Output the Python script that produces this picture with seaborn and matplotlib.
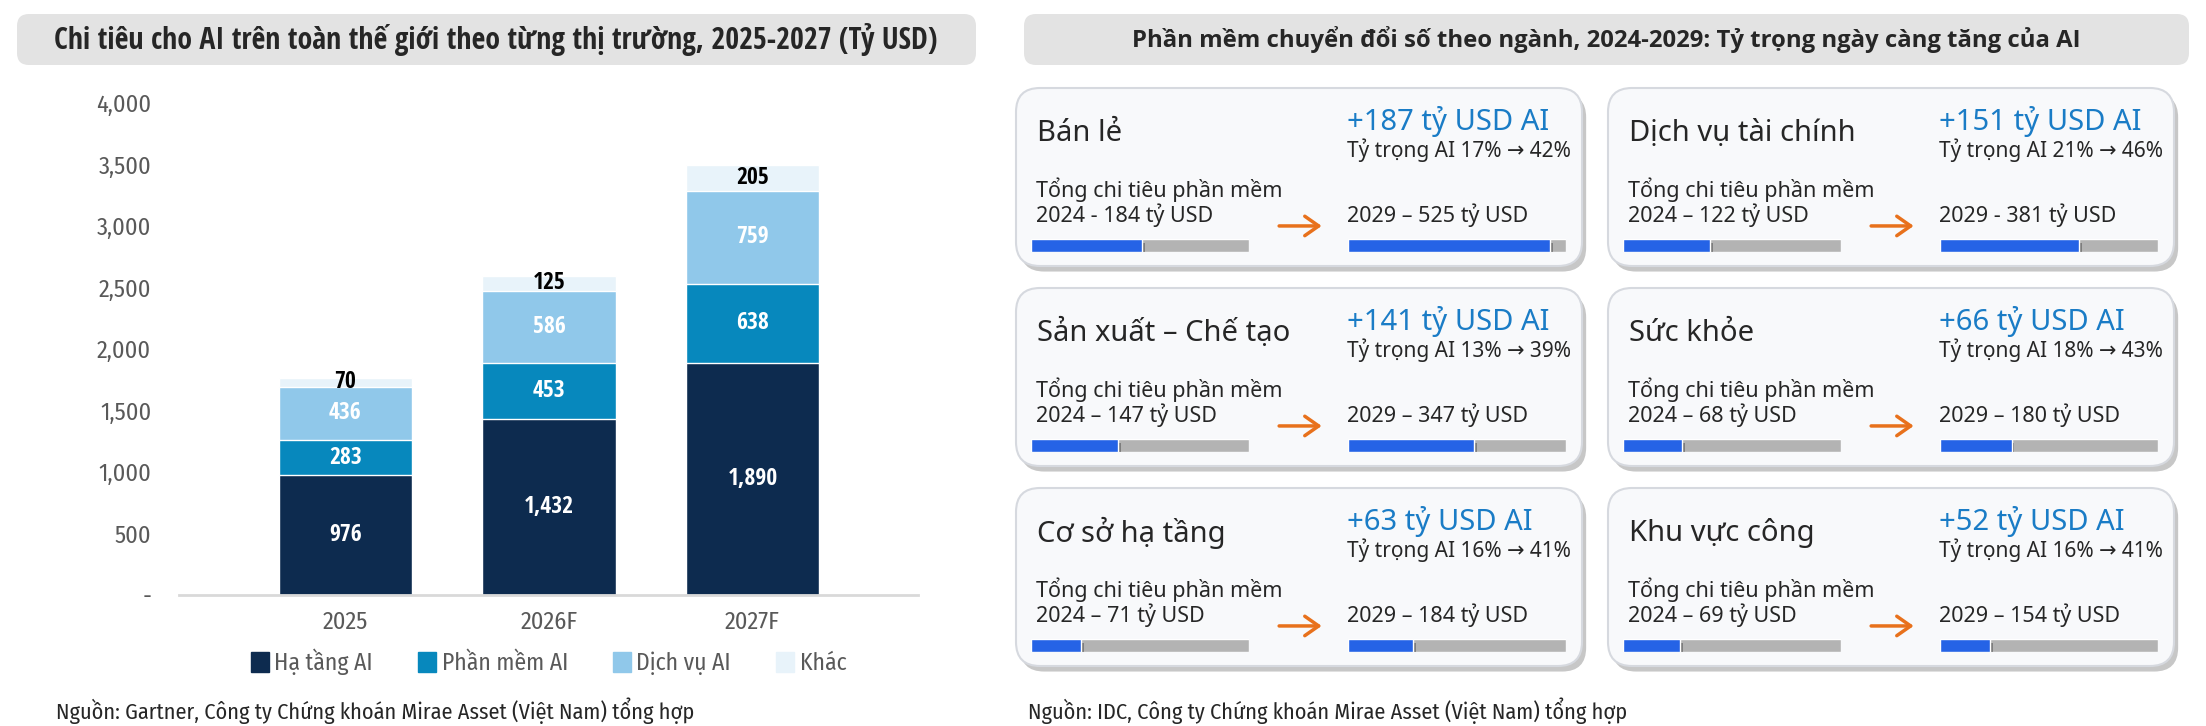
import os
import matplotlib
matplotlib.use('Agg')
import matplotlib.pyplot as plt
import matplotlib.patheffects as pe
from matplotlib import font_manager as fm
from matplotlib.patches import FancyBboxPatch, FancyArrowPatch, Patch
import pandas as pd
import seaborn as sns

# Left chart data (Tỷ USD)
years = ['2025', '2026F', '2027F']
ha_tang_ai = [976, 1432, 1890]
phan_mem_ai = [283, 453, 638]
dich_vu_ai = [436, 586, 759]
khac = [70, 125, 205]
segment_names = ['Hạ tầng AI', 'Phần mềm AI', 'Dịch vụ AI', 'Khác']
segment_colors = ['#0d2b4f', '#0788bd', '#90c8ea', '#e8f3fa']
label_colors = ['white', 'white', 'white', 'black']
y_ticks = [0, 500, 1000, 1500, 2000, 2500, 3000, 3500, 4000]
y_tick_labels = ['-', '500', '1,000', '1,500', '2,000', '2,500', '3,000', '3,500', '4,000']

# Right panel data
sectors = ['Bán lẻ', 'Dịch vụ tài chính', 'Sản xuất – Chế tạo', 'Sức khỏe', 'Cơ sở hạ tầng', 'Khu vực công']
ai_gain = [187, 151, 141, 66, 63, 52]
ai_share_2024 = [17, 21, 13, 18, 16, 16]
ai_share_2029 = [42, 46, 39, 43, 41, 41]
total_2024 = [184, 122, 147, 68, 71, 69]
total_2029 = [525, 381, 347, 180, 184, 154]
dash_2024 = ['-', '–', '–', '–', '–', '–']
dash_2029 = ['–', '-', '–', '–', '–', '–']
bar_2024 = [0.51, 0.40, 0.40, 0.27, 0.23, 0.26]
bar_2029 = [0.93, 0.64, 0.58, 0.33, 0.30, 0.23]


def pick_font(cands, weight=400):
    # find an installed static font file matching family / width / weight
    for name, cond in cands:
        hits = []
        for f in fm.fontManager.ttflist:
            base = os.path.basename(f.fname)
            if f.name != name or 'Italic' in base or 'Oblique' in base:
                continue
            if 'SemiCondensed' in base or 'ExtraCondensed' in base:
                continue
            is_cond = f.stretch == 'condensed' or 'Condensed' in f.name or 'Condensed' in base
            if cond != is_cond:
                continue
            if '[' in base and (weight != 400 or cond):
                continue
            w = f.weight if isinstance(f.weight, int) else fm.weight_dict.get(f.weight, 400)
            if abs(w - weight) <= 50:
                hits.append(f.fname)
        if hits:
            return sorted(hits)[0]
    return fm.findfont('DejaVu Sans')


cond_list = [('Noto Sans Condensed', True), ('Noto Sans', True), ('Open Sans Condensed', True),
             ('Fira Sans Condensed', True), ('IBM Plex Sans Condensed', True), ('DejaVu Sans', True)]
norm_list = [('Noto Sans', False), ('Open Sans', False), ('DejaVu Sans', False)]
f_cond = pick_font(cond_list, 400)
f_cond_bold = pick_font(cond_list, 700)
f_bold = pick_font(norm_list, 700)


def fp(path, size):
    return fm.FontProperties(fname=path, size=size)


W, H = 2206, 726
sns.set_style('white')
plt.rcParams['font.family'] = ['Noto Sans', 'DejaVu Sans']
grey_txt = '#595959'

fig = plt.figure(figsize=(W / 100, H / 100), dpi=100)

# background layer in pixel coords for boxes
bg = fig.add_axes([0, 0, 1, 1], zorder=-1)
bg.set_xlim(0, W)
bg.set_ylim(H, 0)
bg.axis('off')

bg.add_patch(FancyBboxPatch((17, 14), 959, 51, boxstyle='round,pad=0,rounding_size=12',
                            fc='#e3e3e3', ec='none'))
bg.add_patch(FancyBboxPatch((1024, 14), 1165, 51, boxstyle='round,pad=0,rounding_size=12',
                            fc='#e3e3e3', ec='none'))
bg.text(496, 40, 'Chi tiêu cho AI trên toàn thế giới theo từng thị trường, 2025-2027 (Tỷ USD)',
        ha='center', va='center', fontproperties=fp(f_cond_bold, 21.5))
bg.text(1606, 40, 'Phần mềm chuyển đổi số theo ngành, 2024-2029: Tỷ trọng ngày càng tăng của AI',
        ha='center', va='center', fontproperties=fp(f_bold, 17.2))

# ---- left: stacked bars ----
ax = fig.add_axes([179 / W, 1 - 595 / H, (918 - 179) / W, (595 - 103) / H])
df = pd.DataFrame({'year': years, segment_names[0]: ha_tang_ai, segment_names[1]: phan_mem_ai,
                   segment_names[2]: dich_vu_ai, segment_names[3]: khac})
cum = df[segment_names].cumsum(axis=1)
cum['year'] = years
# draw totals first, then smaller cumulative sums on top
for name, color in reversed(list(zip(segment_names, segment_colors))):
    sns.barplot(data=cum, x='year', y=name, color=color, saturation=1, width=0.656, ax=ax)

for j, name in enumerate(segment_names):
    bottoms = cum[name] - df[name]
    for i in range(len(years)):
        v = df[name][i]
        ax.text(i, bottoms[i] + v / 2, f'{v:,}', ha='center', va='center',
                color=label_colors[j], fontproperties=fp(f_cond_bold, 17))

ax.set_ylim(0, 4000)
ax.set_xlim(-0.818, 2.813)
ax.set_yticks(y_ticks)
ax.set_yticklabels(y_tick_labels)
ax.set_xlabel('')
ax.set_ylabel('')
ax.tick_params(axis='y', length=0, pad=20, labelcolor=grey_txt)
ax.tick_params(axis='x', length=0, pad=11, labelcolor=grey_txt)
for lab in ax.get_xticklabels() + ax.get_yticklabels():
    lab.set_fontproperties(fp(f_cond, 17.5))
for s in ['top', 'right', 'left']:
    ax.spines[s].set_visible(False)
ax.spines['bottom'].set_color('#d9d9d9')
ax.spines['bottom'].set_linewidth(2)
ax.set_facecolor('none')

handles = [Patch(color=c, label=n) for n, c in zip(segment_names, segment_colors)]
leg = ax.legend(handles=handles, loc='center', bbox_to_anchor=(0.5, -0.136), ncol=4,
                frameon=False, handlelength=0.75, handleheight=0.9, handletextpad=0.25,
                columnspacing=1.9, prop=fp(f_cond, 17))
for t in leg.get_texts():
    t.set_color(grey_txt)

# ---- right: sector cards ----
col_x = [1016, 1608]
row_y = [88, 288, 488]
card_w, card_h = 566, 178
blue_txt = '#1a7cc6'
for k, sector in enumerate(sectors):
    x0 = col_x[k % 2]
    y0 = row_y[k // 2]
    bg.add_patch(FancyBboxPatch((x0, y0), card_w, card_h, boxstyle='round,pad=0,rounding_size=24',
                                fc='#f8f9fb', ec='#d6d9df', lw=1.5,
                                path_effects=[pe.SimplePatchShadow(offset=(3, -4), shadow_rgbFace='black',
                                                                   alpha=0.22), pe.Normal()]))
    cax = fig.add_axes([x0 / W, 1 - (y0 + card_h) / H, card_w / W, card_h / H])
    cax.set_xlim(0, 1)
    cax.set_ylim(0, 1)
    cax.axis('off')
    cax.text(0.037, 1 - 0.255, sector, ha='left', va='center', fontsize=21)
    cax.text(0.585, 1 - 0.19, f'+{ai_gain[k]} tỷ USD AI', ha='left', va='center',
             fontsize=21, color=blue_txt)
    cax.text(0.585, 1 - 0.35, f'Tỷ trọng AI {ai_share_2024[k]}% → {ai_share_2029[k]}%',
             ha='left', va='center', fontsize=15)
    cax.text(0.035, 1 - 0.57, 'Tổng chi tiêu phần mềm', ha='left', va='center', fontsize=15.5)
    cax.text(0.035, 1 - 0.715, f'2024 {dash_2024[k]} {total_2024[k]} tỷ USD', ha='left',
             va='center', fontsize=15.5)
    cax.text(0.585, 1 - 0.715, f'2029 {dash_2029[k]} {total_2029[k]} tỷ USD', ha='left',
             va='center', fontsize=15.5)
    cax.add_patch(FancyArrowPatch((0.46, 0.225), (0.545, 0.225), transform=cax.transAxes,
                                  arrowstyle='->,head_length=0.5,head_width=0.35',
                                  mutation_scale=20, color='#e8711c', lw=2.5))
    for pos, frac in [([0.027, 0.08, 0.385, 0.072], bar_2024[k]),
                      ([0.586, 0.08, 0.385, 0.072], bar_2029[k])]:
        bax = cax.inset_axes(pos)
        shadow = [pe.SimplePatchShadow(offset=(2, -3), shadow_rgbFace='black', alpha=0.3), pe.Normal()]
        bax.barh(0, 1, height=1, color='#b3b3b3', path_effects=shadow)
        bax.barh(0, frac, height=1, color='#2563e6', path_effects=shadow)
        bax.set_xlim(0, 1)
        bax.set_ylim(-0.5, 0.5)
        bax.axis('off')

fig.text(56 / W, 1 - 711 / H, 'Nguồn: Gartner, Công ty Chứng khoán Mirae Asset (Việt Nam) tổng hợp',
         ha='left', va='center', fontproperties=fp(f_cond, 16))
fig.text(1028 / W, 1 - 711 / H, 'Nguồn: IDC, Công ty Chứng khoán Mirae Asset (Việt Nam) tổng hợp',
         ha='left', va='center', fontproperties=fp(f_cond, 16))

fig.savefig('out.png', dpi=100)
